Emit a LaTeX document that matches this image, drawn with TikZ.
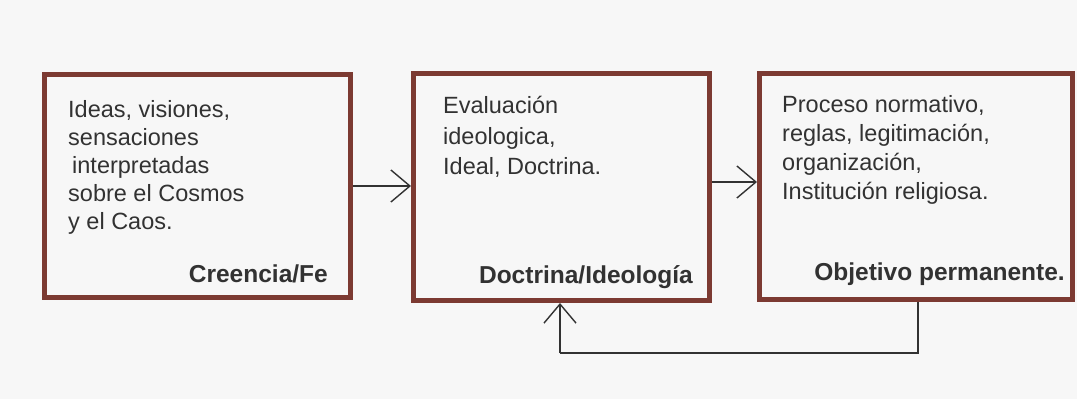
\documentclass[tikz,border=0pt]{standalone}
\usepackage{fontspec}
\setmainfont{Liberation Sans}
\usetikzlibrary{arrows.meta}
\definecolor{marco}{RGB}{124,58,50}
\definecolor{tinta}{RGB}{50,50,50}
\definecolor{fondo}{RGB}{247,247,247}
\begin{document}
\begin{tikzpicture}[x=1pt,y=-1pt,>={Straight Barb[length=19pt,width=32pt]},
	caja/.style={draw=marco,line width=5pt,rectangle,inner sep=0pt},
	texto/.style={text=tinta,align=left,inner sep=0pt,anchor=north west,font=\fontsize{23.5}{28}\selectfont},
	titulo/.style={text=tinta,inner sep=0pt,anchor=base east,font=\fontsize{24.5}{29}\selectfont\bfseries},
	flujo/.style={draw=tinta,line width=1.4pt,->}]
	\fill[fondo] (0,0) rectangle (1077,399);
	\useasboundingbox (0,0) rectangle (1077,399);
	% cajas
	\node[caja,minimum width=306pt,minimum height=223pt] (cree) at (197.5,186) {};
	\node[caja,minimum width=296pt,minimum height=227pt] (doct) at (561.5,187) {};
	\node[caja,minimum width=313pt,minimum height=226pt] (obj) at (916,186.5) {};
	% textos
	\node[texto] (t1) at (68,100) {Ideas, visiones,\\sensaciones\\\hspace*{4pt}interpretadas\\sobre el Cosmos\\y el Caos.};
	\node[texto,font=\fontsize{23.5}{30.5}\selectfont] (t2) at (443,96) {Evaluación\\ideologica,\\Ideal, Doctrina.};
	\node[texto,font=\fontsize{23.5}{29}\selectfont] (t3) at (782,95) {Proceso normativo,\\reglas, legitimación,\\organización,\\Institución religiosa.};
	\node[titulo] (n1) at (328,282) {Creencia/Fe};
	\node[titulo] (n2) at (693,283) {Doctrina/Ideología};
	\node[titulo] (n3) at (1065,280) {Objetivo permanente.};
	% flechas
	\draw[flujo] (cree.east) -- (cree.east -| doct.west);
	\draw[flujo] ([yshift=5pt]doct.east) -- ([yshift=5pt]doct.east -| obj.west);
	\coordinate (ret) at (560,353);
	\draw[flujo,-] ([xshift=2pt]obj.south) |- (ret);
	\draw[flujo] (ret) -- (ret |- doct.south);
\end{tikzpicture}
\end{document}
